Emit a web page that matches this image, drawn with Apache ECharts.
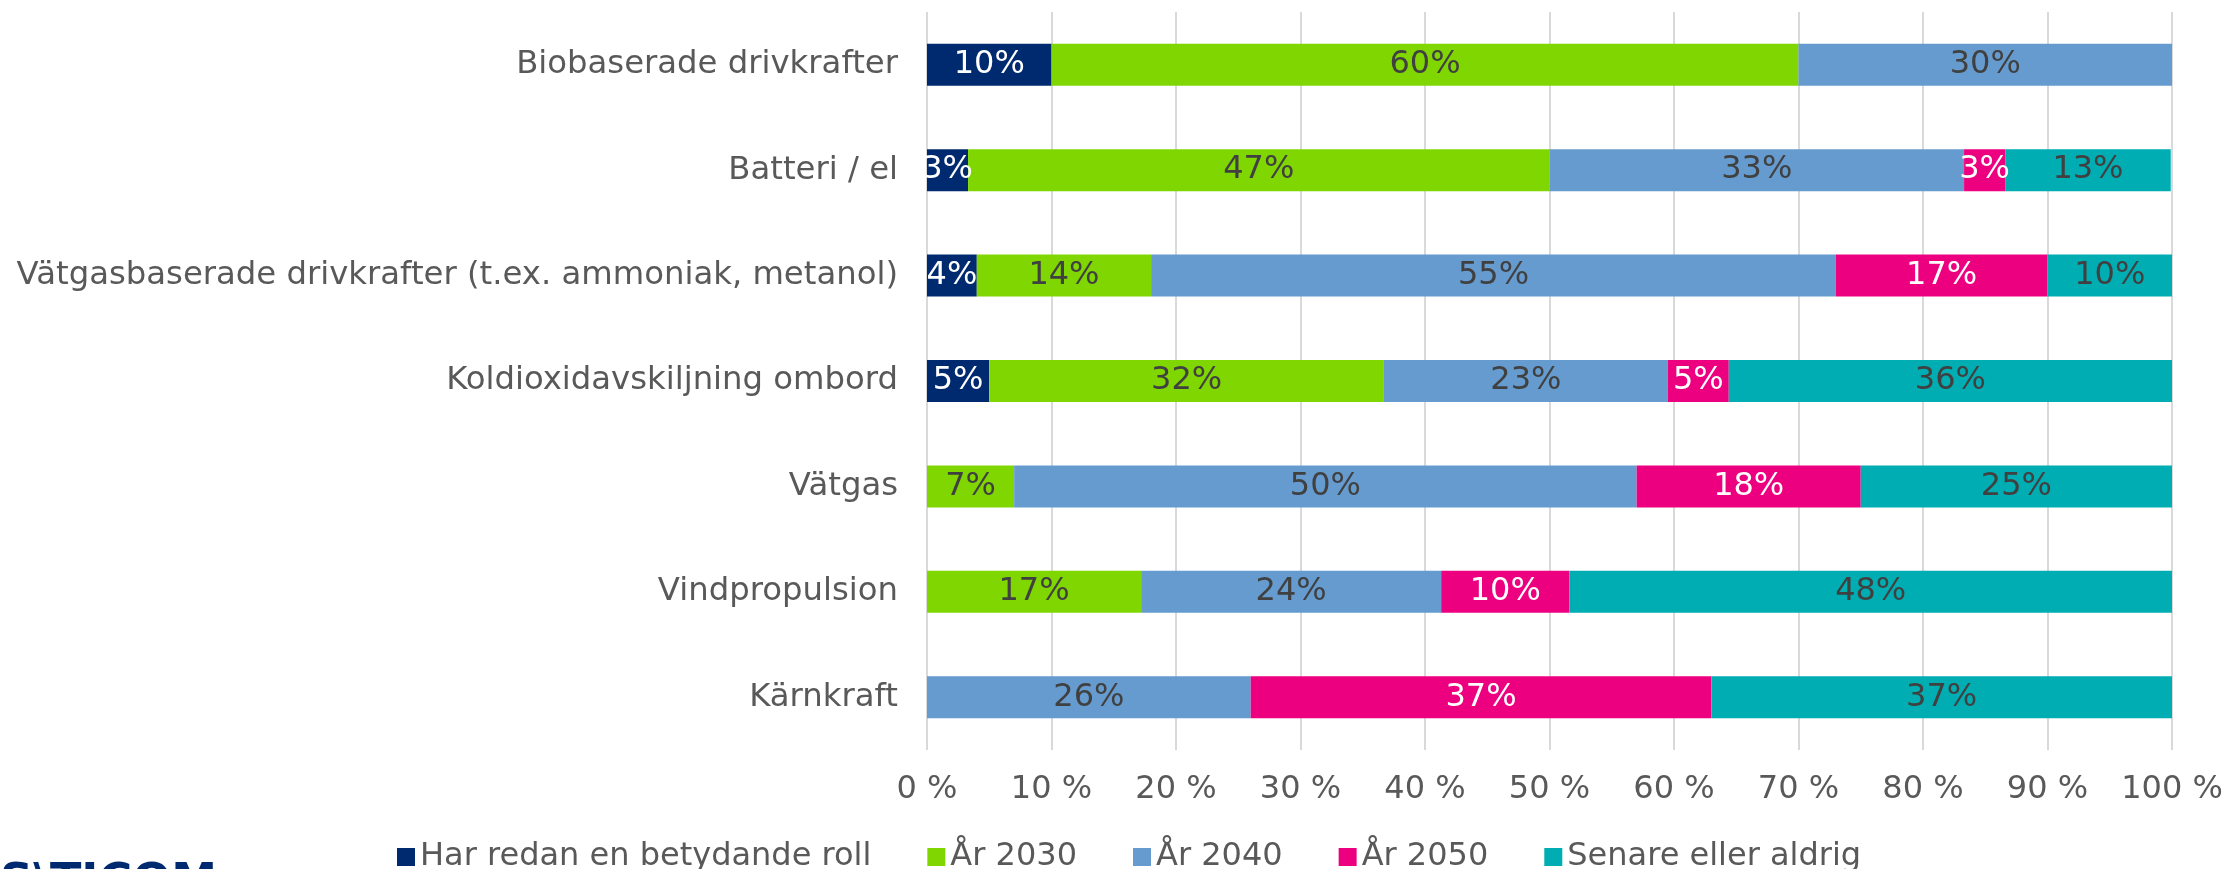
<!DOCTYPE html>
<html>
<head>
<meta charset="utf-8">
<style>
  html, body { margin: 0; padding: 0; background: #fff; }
  #chart { width: 2227px; height: 869px; }
</style>
<script src="https://cdn.jsdelivr.net/npm/echarts@6/dist/echarts.min.js"></script>
</head>
<body>
<div id="chart"></div>
<script>
// data (percent of answers)
const categories = [
  'Biobaserade drivkrafter',
  'Batteri / el',
  'Vätgasbaserade drivkrafter (t.ex. ammoniak, metanol)',
  'Koldioxidavskiljning ombord',
  'Vätgas',
  'Vindpropulsion',
  'Kärnkraft'
]
const seriesNames = ['Har redan en betydande roll', 'År 2030', 'År 2040', 'År 2050', 'Senare eller aldrig']
const redan = [10, 3.3, 4, 5, 0, 0, 0]
const ar2030 = [60, 46.7, 14, 31.7, 7, 17.2, 0]
const ar2040 = [30, 33.3, 55, 22.8, 50, 24.1, 26]
const ar2050 = [0, 3.3, 17, 4.9, 18, 10.3, 37]
const senare = [0, 13.3, 10, 35.6, 25, 48.4, 37]
const xTicks = [0, 10, 20, 30, 40, 50, 60, 70, 80, 90, 100]

const colors = ['#002a6f', '#80d600', '#669bcf', '#ec0080', '#00adb2']
const labelColors = ['#ffffff', '#404040', '#404040', '#ffffff', '#404040']
const values = [redan, ar2030, ar2040, ar2050, senare]
const font = 'DejaVu Sans'

const chart = echarts.init(document.getElementById('chart'))

chart.setOption({
  animation: false,
  textStyle: { fontFamily: font },
  grid: {
    left: 927,
    right: 55,
    top: 12,
    height: 738
  },
  legend: {
    data: seriesNames,
    left: 392,
    top: 836,
    icon: 'rect',
    itemWidth: 18,
    itemHeight: 18,
    itemGap: 56,
    textStyle: { fontSize: 32, color: '#595959', fontFamily: font }
  },
  xAxis: {
    type: 'value',
    min: xTicks[0],
    max: xTicks[xTicks.length - 1],
    interval: 10,
    axisLine: { show: false },
    axisTick: { show: false },
    splitLine: { lineStyle: { color: '#d9d9d9', width: 2 } },
    axisLabel: {
      formatter: '{value} %',
      fontSize: 32,
      color: '#595959',
      margin: 24
    }
  },
  yAxis: {
    type: 'category',
    data: categories,
    inverse: true,
    axisLine: { show: false },
    axisTick: { show: false },
    axisLabel: { fontSize: 32.3, color: '#595959', margin: 29 }
  },
  series: seriesNames.map((name, i) => ({
    name: name,
    type: 'bar',
    stack: 'total',
    barWidth: 42,
    itemStyle: { color: colors[i] },
    label: {
      show: true,
      position: 'inside',
      fontSize: 32,
      color: labelColors[i],
      formatter: p => (p.value > 0 ? Math.round(p.value) + '%' : '')
    },
    data: values[i]
  })),
  // logo at the bottom left, mostly cut off by the edge
  graphic: [{
    type: 'text',
    left: 0,
    top: 861,
    style: {
      text: 'S\\TICOM',
      font: 'bold 46px "DejaVu Sans"',
      fill: '#002a6f'
    }
  }]
})
</script>
</body>
</html>
